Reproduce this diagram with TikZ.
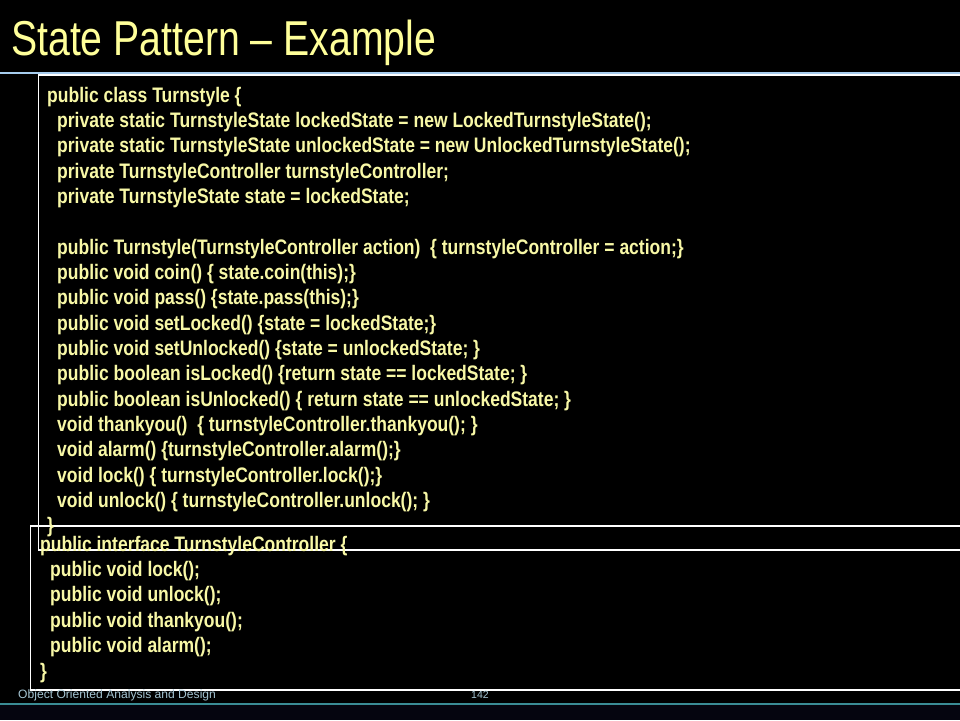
\documentclass[tikz,border=0pt]{standalone}
\usepackage{fontspec}
\setmainfont{Liberation Sans}
\newfontfamily\codefont[FakeStretch=0.834]{Liberation Sans}
\newfontfamily\headfont[FakeStretch=0.80]{Liberation Sans}
\definecolor{slideyellow}{HTML}{FFFF99}
\definecolor{codeyellow}{HTML}{F8F8A6}
\definecolor{rulblue}{HTML}{A6CCEE}
\definecolor{footteal}{HTML}{3A8C94}
\definecolor{footgray}{HTML}{A4C4D2}
\definecolor{deepnavy}{HTML}{05050F}
\begin{document}
\begin{tikzpicture}[x=1pt, y=-1pt]
  \tikzstyle{heading}=[anchor=base west, inner sep=0pt, text=slideyellow, font=\headfont\fontsize{49}{55}\selectfont]
  \tikzstyle{codeline}=[anchor=base west, inner sep=0pt, text=codeyellow, font=\codefont\bfseries\fontsize{21}{25}\selectfont]
  \tikzstyle{footer}=[anchor=base west, inner sep=0pt, text=footgray, font=\fontsize{12.1}{14}\selectfont]
  \tikzstyle{frame}=[draw=white, line width=1.2pt]
  \useasboundingbox[fill=black] (0,0) rectangle (960,720);
  \fill[deepnavy] (0,705) rectangle (960,720);
  % title and rules
  \node[heading] (title) at (11,55) {State Pattern – Example};
  \draw[rulblue, line width=1.3pt] (0,73) -- (960,73);
  \draw[footteal, line width=1.3pt] (0,704) -- (960,704);
  % text frames
  \draw[frame] (38.5,75) rectangle (990,550);
  \draw[frame] (30.5,526) rectangle (990,690);
  % class Turnstyle
  \foreach \row/\x/\txt in {0/47/{public class Turnstyle \{},
      1/57/{private static TurnstyleState lockedState = new LockedTurnstyleState();},
      2/57/{private static TurnstyleState unlockedState = new UnlockedTurnstyleState();},
      3/57/{private TurnstyleController turnstyleController;},
      4/57/{private TurnstyleState state = lockedState;},
      6/57/{public Turnstyle(TurnstyleController action)\ \ \{ turnstyleController = action;\}},
      7/57/{public void coin() \{ state.coin(this);\}},
      8/57/{public void pass() \{state.pass(this);\}},
      9/57/{public void setLocked() \{state = lockedState;\}},
      10/57/{public void setUnlocked() \{state = unlockedState; \}},
      11/57/{public boolean isLocked() \{return state == lockedState; \}},
      12/57/{public boolean isUnlocked() \{ return state == unlockedState; \}},
      13/57/{void thankyou()\ \ \{ turnstyleController.thankyou(); \}},
      14/57/{void alarm() \{turnstyleController.alarm();\}},
      15/57/{void lock() \{ turnstyleController.lock();\}},
      16/57/{void unlock() \{ turnstyleController.unlock(); \}},
      17/47/{\}}}
    \node[codeline] (t\row) at (\x, {102+\row*25.35}) {\txt};
  % interface TurnstyleController
  \foreach \row/\x/\txt in {0/40/{public interface TurnstyleController \{},
      1/50/{public void lock();},
      2/50/{public void unlock();},
      3/50/{public void thankyou();},
      4/50/{public void alarm();},
      5/40/{\}}}
    \node[codeline] (c\row) at (\x, {551+\row*25.4}) {\txt};
  % footer
  \node[footer] (course) at (18,698) {Object Oriented Analysis and Design};
  \node[footer, font=\fontsize{10.5}{12}\selectfont, anchor=base] (page) at (480,698) {142};
\end{tikzpicture}
\end{document}
